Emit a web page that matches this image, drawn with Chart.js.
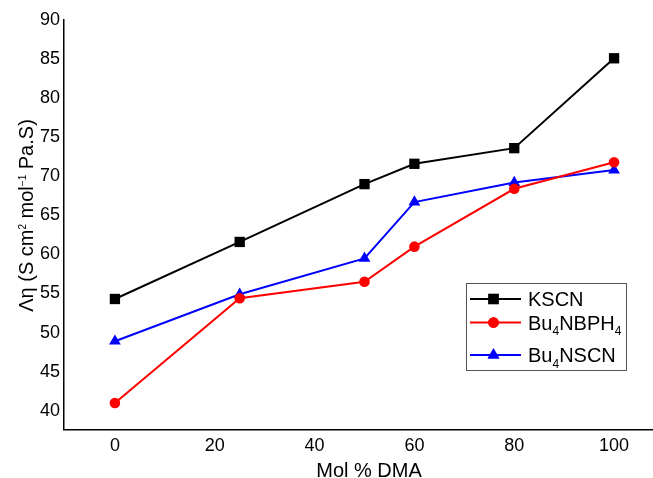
<!DOCTYPE html>
<html>
<head>
<meta charset="utf-8">
<script src="https://cdn.jsdelivr.net/npm/chart.js@4"></script>
<style>
  html, body { margin: 0; padding: 0; background: #fff; }
  #wrap { width: 653px; height: 478px; }
</style>
</head>
<body>
<div id="wrap"><canvas id="c"></canvas></div>
<script>
const molDMA = [0, 25, 50, 60, 80, 100];
const kscn = [54.3, 61.6, 69.0, 71.6, 73.6, 85.1];
const bu4nbph4 = [41.0, 54.4, 56.5, 61.0, 68.4, 71.8];
const bu4nscn = [48.9, 54.9, 59.5, 66.7, 69.2, 70.8];
const seriesNames = ['KSCN', 'Bu_4NBPH_4', 'Bu_4NSCN'];
const xTicks = [0, 20, 40, 60, 80, 100];
const yTicks = [40, 45, 50, 55, 60, 65, 70, 75, 80, 85, 90];
const xTitle = 'Mol % DMA';
const yTitle = 'Λη (S cm^2 mol^−1 Pa.S)';

const FONT = "'Liberation Sans', Arial, Helvetica, sans-serif";

// text with _x subscripts and ^x superscripts
function parseRich(str) {
    const parts = [];
    const re = /([_^])([^\s_^]+?)(?=[A-Z\s]|$)|([^_^]+?)(?=[_^]|$)/g;
    let m;
    while ((m = re.exec(str)) !== null) {
        if (m[1]) parts.push({ t: m[2], k: m[1] === '_' ? 'sub' : 'sup' });
        else parts.push({ t: m[3], k: 'n' });
    }
    return parts;
}

function richWidth(ctx, parts, size, small) {
    let w = 0;
    parts.forEach(p => {
        ctx.font = `${p.k === 'n' ? size : small}px ${FONT}`;
        w += ctx.measureText(p.t).width;
    });
    return w;
}

function drawRich(ctx, parts, x, y, size, small, shift) {
    parts.forEach(p => {
        ctx.font = `${p.k === 'n' ? size : small}px ${FONT}`;
        const dy = p.k === 'sub' ? shift.sub : p.k === 'sup' ? -shift.sup : 0;
        ctx.fillText(p.t, x, y + dy);
        x += ctx.measureText(p.t).width;
    });
}

function makeSet(label, data, color, style, radius) {
    return {
        label,
        data: molDMA.map((x, i) => ({ x, y: data[i] })),
        borderColor: color,
        backgroundColor: color,
        borderWidth: 2,
        pointStyle: style,
        pointRadius: radius,
        pointHoverRadius: radius,
        pointBorderWidth: 0,
        tension: 0,
        clip: false,
    };
}

const datasets = [
    makeSet(seriesNames[0], kscn, '#000000', 'rect', 7.3),
    makeSet(seriesNames[1], bu4nbph4, '#ff0000', 'circle', 5.3),
    makeSet(seriesNames[2], bu4nscn, '#0000ff', 'triangle', 6.8),
];

const legendRows = [299, 322.5, 355];

const extras = {
    id: 'extras',
    afterDraw(chart) {
        const ctx = chart.ctx;
        ctx.save();
        ctx.fillStyle = '#000';
        ctx.textBaseline = 'alphabetic';

        // x title
        ctx.font = `20px ${FONT}`;
        ctx.textAlign = 'center';
        ctx.fillText(xTitle, 369, 477);

        // y title, rotated
        const yp = parseRich(yTitle);
        const yw = richWidth(ctx, yp, 20, 10);
        ctx.save();
        ctx.translate(33, 215.5);
        ctx.rotate(-Math.PI / 2);
        ctx.textAlign = 'left';
        drawRich(ctx, yp, -yw / 2, 0, 20, 10, { sup: 7, sub: 0 });
        ctx.restore();

        // legend box
        ctx.fillStyle = '#fff';
        ctx.fillRect(466.5, 283.5, 160, 87);
        ctx.strokeStyle = '#555';
        ctx.lineWidth = 1;
        ctx.strokeRect(466.5, 283.5, 160, 87);
        chart.data.datasets.forEach((ds, i) => {
            const y = legendRows[i];
            ctx.strokeStyle = ds.borderColor;
            ctx.lineWidth = 2;
            ctx.beginPath();
            ctx.moveTo(470, y);
            ctx.lineTo(521, y);
            ctx.stroke();
            ctx.fillStyle = ds.backgroundColor;
            Chart.helpers.drawPoint(ctx, { pointStyle: ds.pointStyle, radius: ds.pointRadius, borderWidth: 0 }, 493.5, y);
            ctx.fill();
            ctx.fillStyle = '#000';
            ctx.textAlign = 'left';
            drawRich(ctx, parseRich(ds.label), 528, y + 7, 20, 12, { sub: 5.5, sup: 0 });
        });
        ctx.restore();
    }
};

new Chart(document.getElementById('c'), {
    type: 'line',
    data: { datasets },
    plugins: [extras],
    options: {
        responsive: true,
        maintainAspectRatio: false,
        animation: false,
        events: [],
        layout: { autoPadding: false, padding: { top: 20, right: 0, left: 0, bottom: 0 } },
        plugins: { legend: { display: false }, tooltip: { enabled: false } },
        scales: {
            x: {
                type: 'linear',
                min: -10.2,
                max: 107.8,
                afterBuildTicks: s => { s.ticks = xTicks.map(v => ({ value: v })); },
                afterFit: s => { s.height = 48.5; s.paddingLeft = 0; s.paddingRight = 0; },
                grid: { display: false, drawTicks: false },
                border: { display: true, color: '#000', width: 1.5 },
                ticks: { color: '#000', padding: 6, font: { family: FONT, size: 18 } },
            },
            y: {
                type: 'linear',
                min: 37.6,
                max: 90,
                afterBuildTicks: s => { s.ticks = yTicks.map(v => ({ value: v })); },
                afterFit: s => { s.width = 64; },
                grid: { display: false, drawTicks: false },
                border: { display: true, color: '#000', width: 1.5 },
                ticks: { color: '#000', padding: 4, font: { family: FONT, size: 18 } },
            },
        },
    },
});
</script>
</body>
</html>
